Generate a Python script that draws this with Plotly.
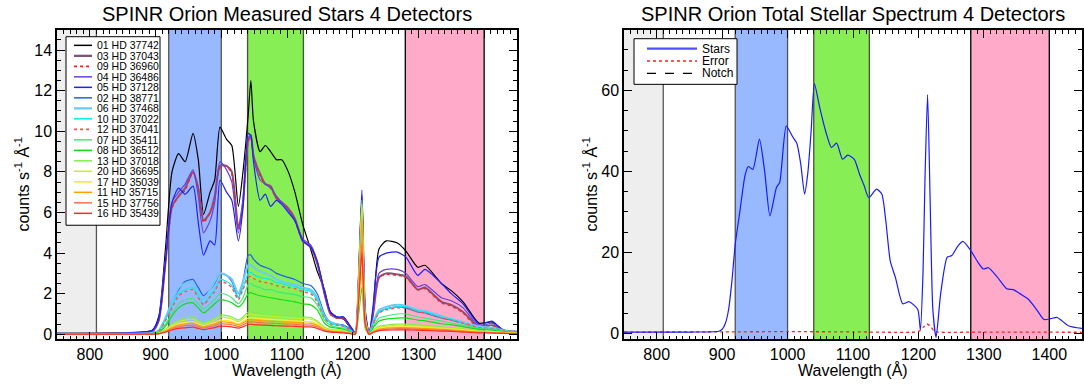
import plotly.graph_objects as go

W, H = 1084, 388
def px(x): return x / W
def py(y): return 1 - y / H

# ---------------- data ----------------
wl = [750, 850, 895, 905, 915, 925, 935, 945, 957, 965, 973, 983, 990, 998, 1008, 1016, 1026, 1033,
      1041, 1045, 1049, 1059, 1067, 1075, 1084, 1092, 1102, 1112, 1124, 1136, 1146, 1157, 1166, 1176,
      1186, 1198, 1204, 1209, 1214, 1219, 1225, 1231, 1240, 1251, 1268, 1281, 1299, 1310, 1335, 1350,
      1368, 1392, 1412, 1430, 1450]

s01 = [0.05, 0.08, 0.2, 0.9, 4.2, 8.0, 8.9, 8.5, 9.9, 8.6, 5.9, 7.0, 7.6, 10.2, 9.6, 9.3, 6.3, 8.0,
       10.8, 12.5, 10.5, 9.0, 9.3, 9.0, 8.6, 8.6, 8.0, 7.0, 5.4, 4.2, 3.1, 2.2, 1.1, 0.85,
       0.75, 0.25, 0.1, 2.0, 5.0, 0.8, 0.05, 1.2, 4.2, 4.6, 4.5, 4.1, 3.3, 3.4, 2.5, 2.15,
       1.6, 0.55, 0.6, 0.2, 0.15]
s03 = [0.03, 0.05, 0.15, 0.7, 3.5, 6.3, 6.8, 7.2, 8.0, 7.2, 5.6, 6.0, 6.8, 8.3, 8.3, 8.0, 5.2, 6.5,
       9.6, 9.8, 8.8, 7.9, 7.4, 7.3, 6.7, 6.5, 6.2, 5.7, 4.6, 4.3, 3.5, 2.0, 1.0, 0.8,
       0.8, 0.3, 0.05, 2.5, 6.5, 1.0, 0.0, 1.0, 2.8, 3.0, 2.95, 2.85, 2.2, 2.3, 1.6, 1.45,
       1.1, 0.35, 0.45, 0.15, 0.1]
s09 = [0.03, 0.05, 0.15, 0.7, 3.5, 6.2, 6.8, 7.1, 8.0, 7.1, 5.5, 6.0, 6.7, 8.2, 8.3, 7.9, 5.2, 6.4,
       9.5, 9.7, 8.8, 7.8, 7.4, 7.2, 6.7, 6.5, 6.2, 5.6, 4.6, 4.3, 3.5, 2.0, 1.0, 0.8,
       0.8, 0.3, 0.05, 2.5, 6.4, 1.0, 0.0, 1.0, 2.8, 2.95, 2.9, 2.8, 2.2, 2.25, 1.55, 1.4,
       1.05, 0.3, 0.45, 0.15, 0.1]
s04 = [0.03, 0.05, 0.15, 0.7, 3.6, 6.5, 7.0, 7.4, 8.1, 6.8, 5.0, 5.6, 6.5, 8.5, 8.1, 7.5, 5.0, 6.6,
       9.7, 9.7, 8.7, 7.6, 7.4, 7.2, 6.8, 6.5, 6.1, 5.6, 4.7, 4.4, 3.6, 2.1, 1.1, 0.85,
       0.85, 0.3, 0.05, 2.8, 6.8, 1.0, 0.0, 1.1, 3.0, 3.2, 3.2, 3.0, 2.35, 2.45, 1.8, 1.65,
       1.3, 0.4, 0.55, 0.2, 0.12]
s05 = [0.04, 0.06, 0.2, 0.8, 3.6, 6.5, 7.2, 6.9, 7.3, 5.5, 3.9, 4.6, 4.4, 7.6, 7.0, 6.6, 4.6, 6.2,
       9.9, 9.8, 8.5, 6.6, 6.9, 6.3, 6.6, 6.4, 6.0, 5.6, 4.6, 4.3, 3.6, 2.1, 1.1, 0.85,
       0.85, 0.3, 0.05, 3.0, 7.1, 1.2, 0.0, 1.4, 3.8, 4.0, 4.05, 3.8, 2.9, 3.2, 2.5, 2.0,
       1.5, 0.5, 0.65, 0.15, 0.1]
s02 = [0.02, 0.03, 0.06, 0.2, 0.8, 1.6, 2.2, 2.6, 2.7, 2.3, 1.9, 2.2, 2.5, 3.0, 2.9, 2.6, 1.8, 2.6,
       3.9, 3.9, 3.7, 3.4, 3.3, 3.2, 3.0, 2.9, 2.8, 2.7, 2.5, 2.4, 2.0, 1.0, 0.6, 0.5,
       0.45, 0.2, 0.02, 2.5, 6.0, 0.8, 0.0, 0.5, 1.1, 1.25, 1.35, 1.3, 1.1, 1.05, 0.8, 0.7,
       0.55, 0.33, 0.28, 0.15, 0.1]
s06 = [0.02, 0.03, 0.06, 0.2, 0.8, 1.6, 2.3, 2.5, 2.5, 2.1, 1.7, 2.2, 2.6, 3.0, 2.9, 2.7, 2.0, 2.6,
       3.4, 3.4, 3.3, 3.1, 3.0, 2.9, 2.7, 2.6, 2.5, 2.45, 2.3, 2.2, 1.8, 0.9, 0.6, 0.5,
       0.4, 0.15, 0.02, 2.2, 5.5, 0.7, 0.0, 0.6, 1.2, 1.35, 1.45, 1.4, 1.2, 1.15, 0.9, 0.75,
       0.6, 0.38, 0.33, 0.2, 0.1]
s10 = [0.02, 0.03, 0.05, 0.15, 0.7, 1.4, 2.0, 2.2, 2.3, 1.9, 1.5, 1.9, 2.2, 2.7, 2.6, 2.4, 1.8, 2.3,
       3.0, 3.05, 2.95, 2.8, 2.75, 2.7, 2.55, 2.5, 2.4, 2.35, 2.2, 2.1, 1.7, 0.85, 0.55, 0.45,
       0.4, 0.15, 0.02, 1.8, 4.3, 0.6, 0.0, 0.5, 1.1, 1.25, 1.35, 1.35, 1.15, 1.1, 0.85, 0.75,
       0.55, 0.33, 0.28, 0.2, 0.1]
s12 = [0.02, 0.03, 0.05, 0.15, 0.65, 1.3, 1.9, 2.1, 2.2, 1.8, 1.45, 1.85, 2.1, 2.6, 2.5, 2.3, 1.7, 2.2,
       2.8, 2.85, 2.75, 2.6, 2.55, 2.5, 2.4, 2.35, 2.3, 2.25, 2.1, 2.0, 1.6, 0.8, 0.5, 0.45,
       0.4, 0.15, 0.02, 1.8, 4.3, 0.6, 0.0, 0.5, 1.05, 1.2, 1.3, 1.3, 1.1, 1.05, 0.8, 0.7,
       0.55, 0.33, 0.28, 0.2, 0.1]
s07 = [0.01, 0.02, 0.04, 0.1, 0.5, 1.0, 1.5, 1.7, 1.75, 1.5, 1.25, 1.5, 1.7, 2.0, 1.95, 1.8, 1.5, 1.8,
       2.45, 2.5, 2.4, 2.3, 2.2, 2.2, 2.1, 2.05, 2.0, 1.95, 1.85, 1.8, 1.45, 0.7, 0.45, 0.35,
       0.3, 0.1, 0.01, 1.3, 3.1, 0.4, 0.0, 0.35, 0.8, 0.9, 1.0, 1.0, 0.85, 0.8, 0.65, 0.55,
       0.45, 0.28, 0.24, 0.15, 0.1]
s08 = [0.01, 0.02, 0.03, 0.08, 0.4, 0.9, 1.3, 1.5, 1.55, 1.3, 1.05, 1.3, 1.5, 1.7, 1.65, 1.55, 1.35, 1.55,
       2.0, 2.05, 2.0, 1.9, 1.85, 1.8, 1.75, 1.7, 1.65, 1.6, 1.5, 1.45, 1.2, 0.55, 0.35, 0.3,
       0.25, 0.08, 0.01, 1.0, 2.3, 0.3, 0.0, 0.3, 0.65, 0.75, 0.8, 0.8, 0.7, 0.66, 0.52, 0.46,
       0.38, 0.24, 0.2, 0.12, 0.08]
s13 = [0.01, 0.01, 0.02, 0.05, 0.25, 0.5, 0.7, 0.8, 0.85, 0.7, 0.55, 0.7, 0.8, 0.95, 0.92, 0.85, 0.7, 0.85,
       1.1, 1.12, 1.08, 1.05, 1.0, 1.0, 0.95, 0.93, 0.9, 0.88, 0.85, 0.82, 0.65, 0.35, 0.25, 0.2,
       0.18, 0.06, 0.01, 2.7, 6.6, 0.8, 0.0, 0.2, 0.4, 0.45, 0.5, 0.5, 0.46, 0.44, 0.37, 0.32,
       0.27, 0.18, 0.15, 0.1, 0.06]
s20 = [0.01, 0.01, 0.02, 0.05, 0.2, 0.45, 0.62, 0.7, 0.75, 0.62, 0.5, 0.62, 0.7, 0.85, 0.82, 0.76, 0.62, 0.76,
       0.97, 1.0, 0.96, 0.93, 0.9, 0.9, 0.86, 0.84, 0.82, 0.8, 0.77, 0.74, 0.6, 0.3, 0.22, 0.18,
       0.16, 0.05, 0.01, 2.6, 6.4, 0.8, 0.0, 0.18, 0.35, 0.4, 0.45, 0.45, 0.41, 0.39, 0.32, 0.29,
       0.24, 0.15, 0.13, 0.08, 0.05]
s17 = [0.01, 0.01, 0.02, 0.04, 0.18, 0.38, 0.52, 0.58, 0.62, 0.52, 0.42, 0.52, 0.58, 0.7, 0.68, 0.63, 0.52, 0.63,
       0.8, 0.82, 0.8, 0.78, 0.75, 0.74, 0.72, 0.7, 0.68, 0.66, 0.64, 0.62, 0.5, 0.26, 0.19, 0.15,
       0.13, 0.04, 0.01, 1.3, 3.1, 0.4, 0.0, 0.15, 0.3, 0.34, 0.38, 0.38, 0.35, 0.33, 0.27, 0.24,
       0.2, 0.13, 0.11, 0.07, 0.04]
s11 = [0.01, 0.01, 0.02, 0.04, 0.16, 0.33, 0.45, 0.5, 0.55, 0.45, 0.37, 0.45, 0.5, 0.62, 0.6, 0.56, 0.46, 0.56,
       0.7, 0.72, 0.7, 0.68, 0.66, 0.65, 0.63, 0.61, 0.6, 0.58, 0.56, 0.54, 0.44, 0.23, 0.17, 0.13,
       0.11, 0.04, 0.01, 2.3, 5.7, 0.7, 0.0, 0.13, 0.26, 0.3, 0.33, 0.33, 0.3, 0.29, 0.24, 0.21,
       0.17, 0.11, 0.1, 0.06, 0.04]
s15 = [0.01, 0.01, 0.01, 0.03, 0.13, 0.27, 0.37, 0.42, 0.45, 0.37, 0.3, 0.37, 0.42, 0.52, 0.5, 0.47, 0.38, 0.47,
       0.6, 0.62, 0.6, 0.58, 0.56, 0.55, 0.53, 0.52, 0.5, 0.49, 0.47, 0.45, 0.37, 0.19, 0.14, 0.11,
       0.09, 0.03, 0.01, 1.8, 4.5, 0.55, 0.0, 0.11, 0.22, 0.25, 0.28, 0.28, 0.25, 0.24, 0.2, 0.18,
       0.14, 0.09, 0.08, 0.05, 0.03]
s16 = [0.01, 0.01, 0.01, 0.02, 0.1, 0.21, 0.29, 0.32, 0.35, 0.29, 0.23, 0.29, 0.33, 0.4, 0.39, 0.36, 0.3, 0.37,
       0.48, 0.5, 0.48, 0.46, 0.45, 0.44, 0.42, 0.41, 0.4, 0.39, 0.37, 0.36, 0.29, 0.15, 0.11, 0.09,
       0.07, 0.02, 0.01, 1.6, 4.0, 0.5, 0.0, 0.09, 0.18, 0.2, 0.22, 0.22, 0.2, 0.19, 0.16, 0.14,
       0.11, 0.07, 0.06, 0.04, 0.02]

star_names = ["01 HD 37742", "03 HD 37043", "09 HD 36960", "04 HD 36486", "05 HD 37128",
              "02 HD 38771", "06 HD 37468", "10 HD 37022", "12 HD 37041", "07 HD 35411",
              "08 HD 36512", "13 HD 37018", "20 HD 36695", "17 HD 35039", "11 HD 35715",
              "15 HD 37756", "16 HD 35439"]
star_values = [s01, s03, s09, s04, s05, s02, s06, s10, s12, s07, s08, s13, s20, s17, s11, s15, s16]
star_colors = ["#000000", "#7e5478", "#ff2020", "#6a3ee0", "#2020ff", "#2060f0", "#6ccaf8", "#00f0f0",
               "#ff5050", "#3ee87a", "#10e010", "#80ee50", "#c4f020", "#ffe640", "#ffa000", "#ff7050", "#ff2a2a"]
star_dash = ["solid", "solid", "dot", "solid", "solid", "solid", "solid", "solid", "dot", "solid",
             "solid", "solid", "solid", "solid", "solid", "solid", "solid"]
star_width = [1.2, 2.0, 1.4, 1.2, 1.2, 1.2, 2.0, 1.2, 1.4, 1.2, 1.2, 1.2, 1.2, 1.4, 1.2, 1.2, 1.2]

tot_wl = [750, 850, 895, 900, 905, 910, 915, 920, 927, 935, 940, 947, 957, 965, 973, 983, 988, 998, 1008, 1014,
          1020, 1026, 1031, 1036, 1041, 1049, 1059, 1067, 1075, 1084, 1092, 1102, 1110, 1117, 1124, 1136, 1144,
          1150, 1157, 1165, 1176, 1186, 1199, 1203, 1207, 1210, 1214, 1218, 1222, 1227, 1234, 1244, 1251, 1260,
          1268, 1281, 1290, 1299, 1307, 1320, 1335, 1345, 1355, 1368, 1380, 1392, 1402, 1412, 1430, 1450]
tot_stars = [0.3, 0.3, 0.5, 1.0, 2.5, 6.0, 13.0, 22.0, 30.0, 39.0, 41.2, 40.5, 48.0, 40.0, 29.0, 36.0, 37.3, 51.2, 48.5, 47.0,
             42.0, 34.4, 39.7, 50.0, 61.7, 55.9, 49.5, 45.9, 47.0, 43.0, 44.0, 43.0, 39.3, 36.5, 33.5, 35.6, 34.4,
             28.0, 17.8, 13.7, 7.3, 7.8, 5.9, 0.8, 15.0, 38.0, 59.0, 32.0, 6.0, -1.0, 9.8, 18.8, 19.2, 21.5,
             22.7, 20.2, 17.8, 15.9, 16.2, 14.0, 11.0, 10.8, 9.8, 8.4, 6.0, 3.4, 3.6, 3.9, 1.8, 1.2]
err_wl = [750, 900, 1000, 1100, 1195, 1202, 1208, 1213, 1218, 1224, 1230, 1300, 1450]
err_val = [0.3, 0.35, 0.4, 0.35, 0.3, 0.6, 1.6, 2.3, 1.8, 0.6, 0.3, 0.3, 0.25]

bands = [(750, 810, "#eeeeee", "#555555"), (920, 1000, "#98b8ff", "#555555"),
         (1040, 1125, "#88ee55", "#445533"), (1280, 1400, "#ffaac8", "#000000")]

FONT = "Liberation Sans"

fig = go.Figure()
for name, vals, col, dash, lw in zip(star_names, star_values, star_colors, star_dash, star_width):
    fig.add_trace(go.Scatter(x=wl, y=vals, mode="lines", name=name, xaxis="x", yaxis="y",
                             line=dict(color=col, width=lw, dash=dash, shape="spline", smoothing=0.6)))

fig.add_trace(go.Scatter(x=err_wl, y=err_val, mode="lines", name="Error", xaxis="x2", yaxis="y2",
                         line=dict(color="#ff2020", width=1.3, dash="dot", shape="spline", smoothing=0.6)))
fig.add_trace(go.Scatter(x=tot_wl, y=tot_stars, mode="lines", name="Stars", xaxis="x2", yaxis="y2",
                         line=dict(color="#1a1aff", width=1.2, shape="spline", smoothing=0.6)))

shapes = []
for xr, yr in (("x", "y domain"), ("x2", "y2 domain")):
    for x0, x1, fc, lc in bands:
        shapes.append(dict(type="rect", xref=xr, yref=yr, x0=x0, x1=x1, y0=0, y1=1,
                           fillcolor=fc, line=dict(width=0), layer="below"))
        for xe in (x0, x1):
            if xe == 750:
                continue
            shapes.append(dict(type="line", xref=xr, yref=yr, x0=xe, x1=xe, y0=0, y1=1,
                               line=dict(color=lc, width=1.3), layer="below"))

annotations = []
# ---- left legend (manual) ----
shapes.append(dict(type="rect", xref="paper", yref="paper", x0=px(66), x1=px(160), y0=py(227), y1=py(37),
                   fillcolor="white", line=dict(color="black", width=1)))
for i, (name, col, dash, lw) in enumerate(zip(star_names, star_colors, star_dash, star_width)):
    yy = 45.7 + i * 10.58
    shapes.append(dict(type="line", xref="paper", yref="paper", x0=px(74), x1=px(92), y0=py(yy), y1=py(yy),
                       line=dict(color=col, width=lw + 0.3, dash=dash)))
    annotations.append(dict(xref="paper", yref="paper", x=px(95), y=py(yy), text=name, showarrow=False,
                            xanchor="left", yanchor="middle", font=dict(family=FONT, size=10.5, color="black")))
# ---- right legend (manual) ----
shapes.append(dict(type="rect", xref="paper", yref="paper", x0=px(634), x1=px(737), y0=py(85), y1=py(39),
                   fillcolor="white", line=dict(color="black", width=1)))
rleg = [("Stars", "#5050ff", "solid", 2.4, 49), ("Error", "#ff2020", "dot", 1.6, 61.5), ("Notch", "#000000", "dash", 1.3, 74)]
for name, col, dash, lw, yy in rleg:
    shapes.append(dict(type="line", xref="paper", yref="paper", x0=px(647), x1=px(697), y0=py(yy), y1=py(yy),
                       line=dict(color=col, width=lw, dash=dash)))
    annotations.append(dict(xref="paper", yref="paper", x=px(700), y=py(yy), text=name, showarrow=False,
                            xanchor="left", yanchor="middle", font=dict(family=FONT, size=12, color="black")))

# ---- titles ----
for xc, t in ((287, "SPINR Orion Measured Stars 4 Detectors"), (853, "SPINR Orion Total Stellar Spectrum 4 Detectors")):
    annotations.append(dict(xref="paper", yref="paper", x=px(xc), y=py(14), text=t, showarrow=False,
                            xanchor="center", yanchor="middle", font=dict(family=FONT, size=20, color="black")))
for xc in (287, 853):
    annotations.append(dict(xref="paper", yref="paper", x=px(xc), y=py(373), text="Wavelength (Å)", showarrow=False,
                            xanchor="center", yanchor="middle", font=dict(family=FONT, size=16, color="black")))
for xc in (22, 590):
    annotations.append(dict(xref="paper", yref="paper", x=px(xc), y=py(186), text="counts s<sup>-1</sup> Å<sup>-1</sup>",
                            showarrow=False, textangle=-90, xanchor="center", yanchor="middle",
                            font=dict(family=FONT, size=16, color="black")))

def xax(domain):
    return dict(domain=domain, range=[750, 1450], tickmode="linear", tick0=800, dtick=100,
                ticks="inside", ticklen=8, tickwidth=1, tickcolor="black", showline=True, linecolor="black",
                linewidth=1.5, mirror="allticks", showgrid=False, zeroline=False,
                tickfont=dict(family=FONT, size=16, color="black"),
                minor=dict(ticks="inside", ticklen=4, dtick=10, tick0=800, tickcolor="black", tickwidth=1, showgrid=False))

def yax(domain, rng, dt, mdt, anchor):
    return dict(domain=domain, range=rng, tickmode="linear", tick0=0, dtick=dt, anchor=anchor,
                ticks="inside", ticklen=8, tickwidth=1, tickcolor="black", showline=True, linecolor="black",
                linewidth=1.5, mirror="allticks", showgrid=False, zeroline=False,
                tickfont=dict(family=FONT, size=16, color="black"),
                minor=dict(ticks="inside", ticklen=4, dtick=mdt, tick0=0, tickcolor="black", tickwidth=1, showgrid=False))

ydom = [46 / H, 358 / H]
fig.update_layout(
    width=W, height=H, margin=dict(l=0, r=0, t=0, b=0), showlegend=False,
    paper_bgcolor="white", plot_bgcolor="white",
    xaxis=dict(xax([57 / W, 517 / W]), anchor="y"),
    yaxis=yax(ydom, [-0.25, 15], 2, 0.5, "x"),
    xaxis2=dict(xax([624 / W, 1082 / W]), anchor="y2"),
    yaxis2=yax(ydom, [-1.5, 75], 20, 5, "x2"),
    shapes=shapes, annotations=annotations,
)
fig.write_html("out.html")
